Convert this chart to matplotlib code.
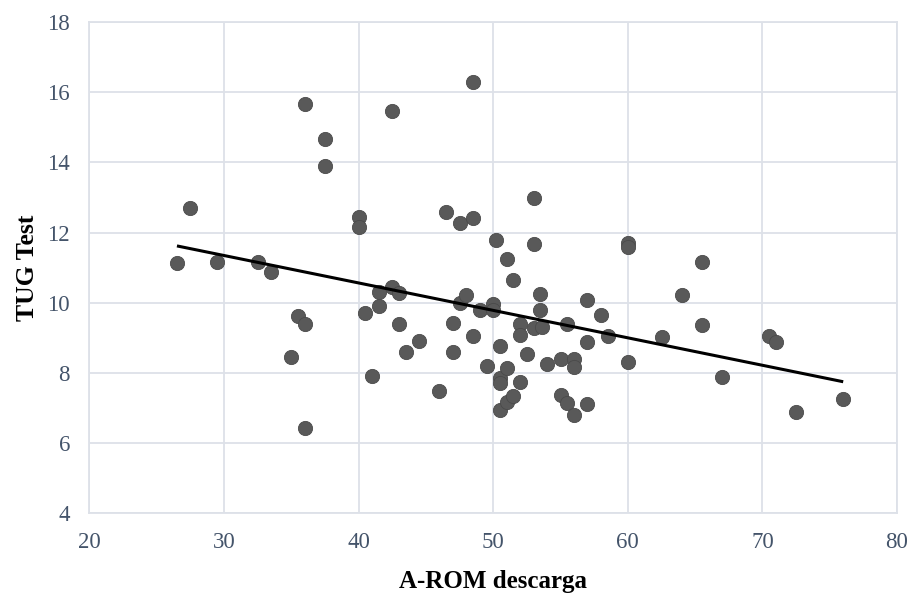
import numpy as np
import matplotlib
matplotlib.use("Agg")
import matplotlib.pyplot as plt

x_vals = [26.5, 27.5, 29.5, 32.5, 33.5, 35.0, 35.5, 36.0, 36.0, 36.0,
          37.5, 37.5, 40.0, 40.0, 40.5, 41.0, 41.5, 41.5, 42.5, 42.5,
          43.0, 43.0, 43.5, 44.5, 46.0, 46.5, 47.0, 47.0, 47.5, 47.5,
          48.0, 48.5, 48.5, 48.5, 49.0, 49.5, 50.0, 50.0, 50.2, 50.5,
          50.5, 50.5, 50.5, 51.0, 51.0, 51.0, 51.5, 51.5, 52.0, 52.0,
          52.0, 52.5, 53.0, 53.0, 53.0, 53.5, 53.5, 53.6, 54.0, 55.0,
          55.0, 55.5, 55.5, 56.0, 56.0, 56.0, 57.0, 57.0, 57.0, 58.0,
          58.5, 60.0, 60.0, 60.0, 62.5, 64.0, 65.5, 65.5, 67.0, 70.5,
          71.0, 72.5, 76.0]
y_vals = [11.13, 12.69, 11.15, 11.15, 10.87, 8.46, 9.61, 9.40, 15.66, 6.43,
          14.66, 13.91, 12.44, 12.17, 9.71, 7.92, 10.31, 9.90, 15.46, 10.45,
          10.28, 9.40, 8.59, 8.92, 7.48, 12.60, 9.43, 8.59, 12.27, 10.00,
          10.23, 16.30, 12.43, 9.06, 9.78, 8.19, 9.97, 9.80, 11.78, 8.76,
          7.86, 7.70, 6.93, 11.25, 8.14, 7.16, 10.64, 7.35, 9.40, 9.07,
          7.73, 8.55, 13.00, 11.68, 9.28, 10.26, 9.78, 9.31, 8.24, 8.40,
          7.37, 9.40, 7.14, 8.40, 8.17, 6.80, 10.07, 8.87, 7.12, 9.65,
          9.06, 11.70, 11.60, 8.31, 9.01, 10.21, 11.17, 9.35, 7.87, 9.06,
          8.87, 6.89, 7.26]

x_ticks = [20, 30, 40, 50, 60, 70, 80]
y_ticks = [4, 6, 8, 10, 12, 14, 16, 18]
x_label = "A-ROM descarga"
y_label = "TUG Test"

plt.rcParams['font.family'] = ['Liberation Serif', 'DejaVu Serif']

fig = plt.figure(figsize=(9.12, 5.96), dpi=100)
ax = fig.add_axes([0.0981, 0.1393, 0.8855, 0.8233])

grid_c = "#dde1e8"
ax.set_xlim(20, 80)
ax.set_ylim(4, 18)
ax.set_xticks(x_ticks)
ax.set_yticks(y_ticks)
ax.grid(True, color=grid_c, linewidth=1.3, zorder=0)
ax.set_axisbelow(True)
for s in ax.spines.values():
    s.set_color(grid_c)
    s.set_linewidth(1.3)
ax.tick_params(axis="both", length=0, labelsize=16.5, colors="#44546a")
ax.tick_params(axis="y", pad=14)
ax.tick_params(axis="x", pad=14)

ax.scatter(x_vals, y_vals, s=105, color="#595959", edgecolors="#4a4a4a",
           linewidths=0.6, zorder=3)

xa = np.array(x_vals)
ya = np.array(y_vals)
m, b = np.polyfit(xa, ya, 1)
xl = np.array([xa.min(), xa.max()])
ax.plot(xl, m * xl + b, color="black", linewidth=2.2, zorder=4,
        solid_capstyle="butt")

ax.set_xlabel(x_label, fontsize=18, fontweight="bold", labelpad=12)
ax.set_ylabel(y_label, fontsize=18.5, fontweight="bold", labelpad=6)

fig.savefig("out.png", dpi=100)
